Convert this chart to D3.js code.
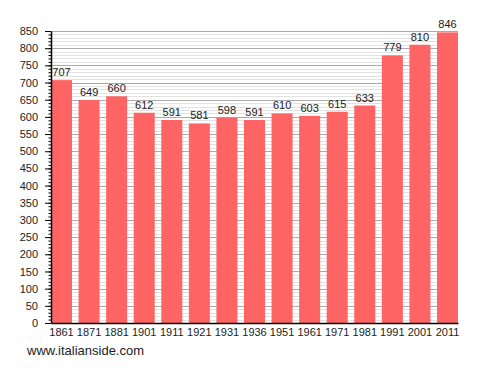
<!DOCTYPE html>
<html>
<head>
<meta charset="utf-8">
<script src="https://cdn.jsdelivr.net/npm/d3@7"></script>
<style>
  body { margin: 0; background: #fff; }
  text { font-family: "Liberation Sans", Arial, sans-serif; fill: #222; }
</style>
</head>
<body>
<div class="chart"></div>
<script>
// population by census year
var years = ["1861", "1871", "1881", "1901", "1911", "1921", "1931", "1936", "1951", "1961", "1971", "1981", "1991", "2001", "2011"];
var population = [707, 649, 660, 612, 591, 581, 598, 591, 610, 603, 615, 633, 779, 810, 846];
var yMax = 850;

var svgWidth = 488;
var svgHeight = 373;
var margin = { top: 31, right: 30, bottom: 50, left: 51 };
var width = 458 - margin.left;
var height = 323 - margin.top;

var svg = d3.select(".chart")
  .append("svg")
  .attr("width", svgWidth)
  .attr("height", svgHeight);

var chartGroup = svg.append("g")
  .attr("transform", `translate(${margin.left}, ${margin.top})`);

var xScale = d3.scaleBand()
  .domain(years)
  .range([0, width])
  .paddingInner(0.238)
  .paddingOuter(0);

var yScale = d3.scaleLinear()
  .domain([0, yMax])
  .range([height, 0]);

// minor grid every 10, major every 50
chartGroup.append("g")
  .selectAll("line")
  .data(d3.range(10, yMax + 1, 10).filter(v => v % 50 != 0))
  .enter()
  .append("line")
  .attr("x1", 0)
  .attr("x2", width)
  .attr("y1", d => Math.round(yScale(d)) + 0.5)
  .attr("y2", d => Math.round(yScale(d)) + 0.5)
  .attr("stroke", "#e2e2e2");

chartGroup.append("g")
  .selectAll("line")
  .data(d3.range(50, yMax + 1, 50))
  .enter()
  .append("line")
  .attr("x1", 0)
  .attr("x2", width)
  .attr("y1", d => Math.round(yScale(d)) + 0.5)
  .attr("y2", d => Math.round(yScale(d)) + 0.5)
  .attr("stroke", "#aaaaaa");

// bars
chartGroup.selectAll("rect")
  .data(population)
  .enter()
  .append("rect")
  .attr("x", (d, i) => xScale(years[i]))
  .attr("y", d => yScale(d))
  .attr("width", xScale.bandwidth())
  .attr("height", d => height - yScale(d))
  .attr("fill", "#ff6464");

// value labels
chartGroup.append("g")
  .selectAll("text")
  .data(population)
  .enter()
  .append("text")
  .attr("x", (d, i) => xScale(years[i]) + xScale.bandwidth() / 2)
  .attr("y", d => yScale(d) - 4)
  .attr("text-anchor", "middle")
  .attr("font-size", "11px")
  .text(d => d);

// y axis: minor ticks then labelled ticks
chartGroup.append("g")
  .call(d3.axisLeft(yScale).tickValues(d3.range(0, yMax + 1, 10)).tickSize(2.5).tickFormat(""))
  .call(g => g.select(".domain").remove())
  .selectAll("line").attr("stroke", "#000");

var leftAxis = chartGroup.append("g")
  .call(d3.axisLeft(yScale).tickValues(d3.range(0, yMax + 1, 50)).tickSize(6).tickPadding(7).tickSizeOuter(0));
leftAxis.select(".domain").attr("stroke", "#000").attr("stroke-width", 1.5);
leftAxis.selectAll("text").attr("font-size", "11px").attr("font-family", "Liberation Sans, Arial, sans-serif").attr("fill", "#222");

// x axis
var bottomAxis = chartGroup.append("g")
  .attr("transform", `translate(0, ${height})`)
  .call(d3.axisBottom(xScale).tickSize(0).tickPadding(5));
bottomAxis.select(".domain").attr("stroke", "#000").attr("stroke-width", 1.5);
bottomAxis.selectAll("text").attr("font-size", "11px").attr("font-family", "Liberation Sans, Arial, sans-serif").attr("fill", "#222");

svg.append("text")
  .attr("x", 27)
  .attr("y", 355)
  .attr("font-size", "13px")
  .text("www.italianside.com");
</script>
</body>
</html>
